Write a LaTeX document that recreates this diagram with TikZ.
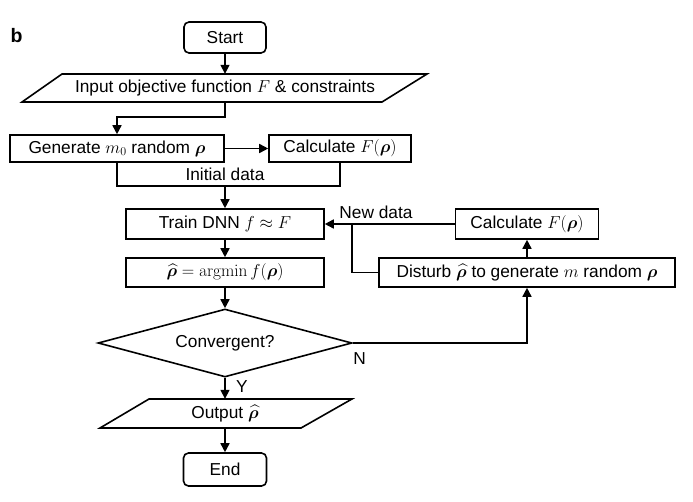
\documentclass[tikz,border=0pt]{standalone}
\usepackage{amsmath}
\usepackage{bm}
\usepackage[no-math]{fontspec}
\setmainfont{Liberation Sans}
\usetikzlibrary{arrows.meta,shapes.geometric}
\begin{document}
\begin{tikzpicture}[x=1pt,y=-1pt,
  box/.style={draw, line width=1.6pt, inner sep=0pt, align=center},
  arr/.style={line width=1.6pt, -{Triangle[length=9pt,width=9pt]}},
  ln/.style={line width=1.6pt},
  lbl/.style={inner sep=0pt},
  font=\fontsize{17.3}{20}\selectfont]
\useasboundingbox (0,0) rectangle (693,501);
% nodes
\node[lbl, font=\fontsize{19.5}{22}\selectfont\bfseries] (b) at (16.5,36) {b};
\node[box, rounded corners=5pt, minimum width=82pt, minimum height=31pt] (start) at (225,37.5) {Start};
\node[lbl, minimum height=28pt] (input) at (225,88) {Input objective function $F$ \& constraints};
\draw[ln, line join=miter] (62,74) -- (427,74) -- (382,102) -- (22,102) -- cycle;
\node[box, minimum width=214pt, minimum height=27pt] (gen) at (117,148.5) {Generate $m_0$ random $\bm{\rho}$};
\node[box, minimum width=142pt, minimum height=27pt] (calcA) at (340,148.5) {Calculate $F(\bm{\rho})$};
\node[lbl] (init) at (225,174) {Initial data};
\coordinate (join) at (225,186);
\node[box, minimum width=198pt, minimum height=30pt] (train) at (225,224) {Train DNN $f \approx F$};
\node[box, minimum width=198pt, minimum height=29pt] (amin) at (225,272.5) {$\widehat{\bm{\rho}} = \operatorname{argmin} f(\bm{\rho})$};
\node[diamond, draw, line width=1.6pt, shape aspect=3.7, minimum width=254pt, minimum height=68pt, inner sep=0pt] (conv) at (225,343) {Convergent?};
\node[lbl] (Y) at (242,387) {Y};
\node[lbl, minimum height=29pt] (out) at (225,413.5) {Output $\widehat{\bm{\rho}}$};
\draw[ln, line join=miter] (149,399) -- (352,399) -- (301,428) -- (100,428) -- cycle;
\node[box, rounded corners=5pt, minimum width=83pt, minimum height=33pt] (end) at (225,469.5) {End};
\node[box, minimum width=143pt, minimum height=30pt] (calcB) at (527,224) {Calculate $F(\bm{\rho})$};
\node[box, minimum width=296pt, minimum height=29pt] (dist) at (527,272.5) {Disturb $\widehat{\bm{\rho}}$ to generate $m$ random $\bm{\rho}$};
\node[lbl] (newd) at (376,212) {New data};
\node[lbl] (N) at (359.5,358.5) {N};
\coordinate (loop) at (352,224);
% connectors
\draw[arr] (start.south) -- (start.south |- input.north);
\draw[arr] (input.south) -- ++(0,15) -| (gen.north);
\draw[arr] (gen) -- (calcA);
\draw[ln] (gen.south) |- (join) -| (calcA.south);
\draw[arr] (join) -- (train.north);
\draw[arr] (train) -- (amin);
\draw[arr] (amin) -- (conv);
\draw[arr] (conv.south) -- (out.north);
\draw[arr] (out.south) -- (end.north);
\draw[arr] (conv.east) -| (dist.south);
\draw[arr] (dist) -- (calcB);
\draw[arr] (calcB.west) -- (train.east);
\draw[ln] (dist.west) -| (loop);
\end{tikzpicture}
\end{document}
